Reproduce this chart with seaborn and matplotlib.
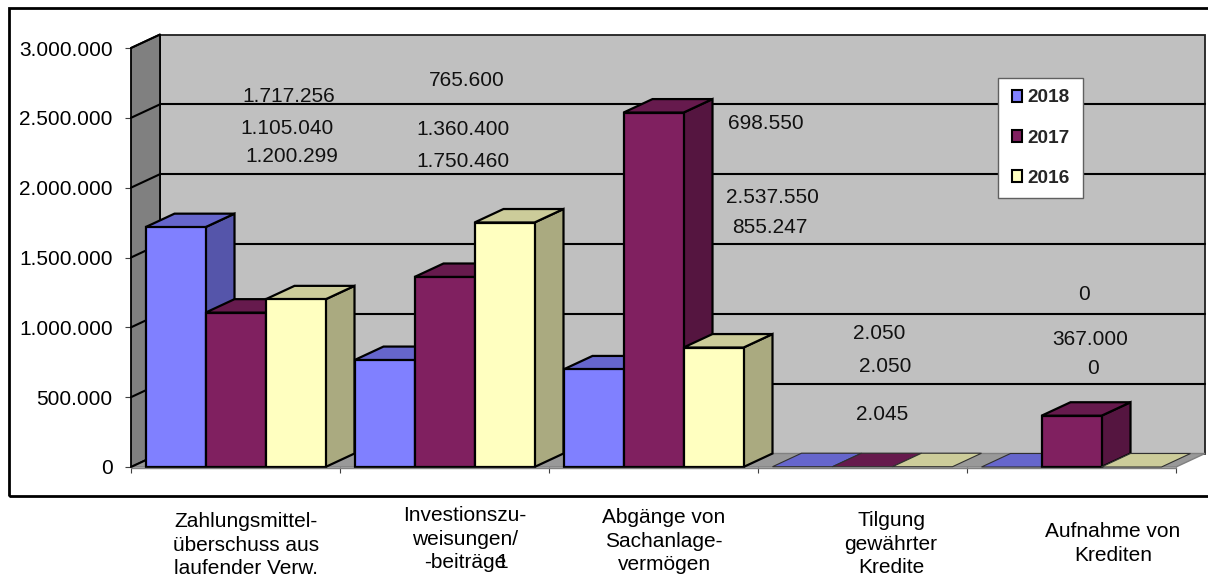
import matplotlib
matplotlib.use("Agg")
import matplotlib.pyplot as plt
from matplotlib.patches import Polygon, Rectangle
from matplotlib.transforms import ScaledTranslation
from matplotlib.colors import to_rgb
import pandas as pd
import seaborn as sns

categories = ["Zahlungsmittel-\nüberschuss aus\nlaufender Verw.",
              "Investionszu-\nweisungen/\n-beiträge",
              "Abgänge von\nSachanlage-\nvermögen",
              "Tilgung\ngewährter\nKredite",
              "Aufnahme von\nKrediten"]
years = ["2018", "2017", "2016"]
v2018 = [1717256, 765600, 698550, 2050, 0]
v2017 = [1105040, 1360400, 2537550, 2050, 367000]
v2016 = [1200299, 1750460, 855247, 2045, 0]
colors = ["#8080FF", "#802060", "#FFFFC0"]
yticks = [0, 500000, 1000000, 1500000, 2000000, 2500000, 3000000]

W, H = 1208, 578
sns.set_theme(style="white")
plt.rcParams["font.family"] = ["Liberation Sans", "DejaVu Sans"]
fig = plt.figure(figsize=(W / 100, H / 100), dpi=100)
L, R, B, T = 131, 1176, 467, 48
ax = fig.add_axes([L / W, 1 - B / H, (R - L) / W, (B - T) / H])
ax.patch.set_visible(False)

rows = []
for y, vals in zip(years, [v2018, v2017, v2016]):
    for c, v in zip(categories, vals):
        rows.append({"cat": c, "year": y, "value": v})
df = pd.DataFrame(rows)

sns.barplot(data=df, x="cat", y="value", hue="year", hue_order=years,
            palette=colors, width=180 / 209, gap=0, edgecolor="black",
            linewidth=1.6, saturation=1, ax=ax, legend=True)
ax.set_xlim(-0.5, 4.5)
ax.set_ylim(0, 3000000)
ax.set_xlabel("")
ax.set_ylabel("")
for s in ax.spines.values():
    s.set_visible(False)

# the bars as seaborn drew them, left to right (its legend proxies have no width)
bars = sorted([p for p in ax.patches if isinstance(p, Rectangle) and p.get_width() > 0],
              key=lambda p: p.get_x())

# projection depth, converted from screen to data units
DX = 29 / ((R - L) / 5)
DY = 13.5 / ((B - T) / 3000000)
x0, x1 = -0.5, 4.5
ymax = 3000000
FLAT = 10000  # bars lower than this are less than a pixel and show only their top

ax.add_patch(Polygon([(x0 + DX, DY), (x1 + DX, DY), (x1 + DX, ymax + DY), (x0 + DX, ymax + DY)],
                     fc="#C0C0C0", ec="#202020", lw=1.3, clip_on=False, zorder=0.5))
ax.add_patch(Polygon([(x0, 0), (x0 + DX, DY), (x0 + DX, ymax + DY), (x0, ymax)],
                     fc="#808080", ec="black", lw=1.3, clip_on=False, zorder=0.6))
ax.add_patch(Polygon([(x0, 0), (x1, 0), (x1 + DX, DY), (x0 + DX, DY)],
                     fc="#999999", ec="#808080", lw=1.0, clip_on=False, zorder=0.7))
for v in yticks[1:-1]:
    ax.plot([x0 + DX, x1 + DX], [v + DY, v + DY], color="black", lw=1.5, clip_on=False, zorder=0.8)
for v in yticks:
    ax.plot([x0, x0 + DX], [v, v + DY], color="black", lw=1.5, clip_on=False, zorder=0.8)

# depth faces of every bar, painted from left to right
z = 2.0
for b in bars:
    bx, bw, bh = b.get_x(), b.get_width(), b.get_height()
    rgb = to_rgb(b.get_facecolor()[:3])
    flat = bh < FLAT
    if not flat:
        ax.add_patch(Polygon([(bx + bw, 0), (bx + bw + DX, DY), (bx + bw + DX, bh + DY), (bx + bw, bh)],
                             fc=[c * 0.667 for c in rgb], ec="black", lw=1.6, clip_on=False,
                             zorder=z, joinstyle="miter"))
    ax.add_patch(Polygon([(bx, bh), (bx + bw, bh), (bx + bw + DX, bh + DY), (bx + DX, bh + DY)],
                         fc=[c * 0.8 for c in rgb], ec="#303030" if flat else "black",
                         lw=0.8 if flat else 1.6, clip_on=False,
                         zorder=z + 0.01, joinstyle="miter"))
    b.set_zorder(z + 0.02)
    b.set_clip_on(False)
    if flat:
        b.set_visible(False)
    z += 0.1
ax.plot([x0, x1], [0, 0], color="#808080", lw=1.0, clip_on=False, zorder=z,
        transform=ax.transData + ScaledTranslation(0, -1.2 / 100, fig.dpi_scale_trans))

# ticks
ax.set_yticks(yticks)
ax.set_yticklabels([f"{v:,}".replace(",", ".") for v in yticks], fontsize=15, color="black")
ax.tick_params(axis="y", left=True, length=4.3, width=0.8, color="#404040", pad=9)
ax.set_xticks(range(5))
ax.set_xticks([-0.5, 0.5, 1.5, 2.5, 3.5, 4.5], minor=True)
ax.tick_params(axis="x", which="minor", bottom=True, length=4, width=0.8, color="#404040")
ax.tick_params(axis="x", which="major", bottom=False, length=0, pad=0)
label_shift = [(10.5, 45), (20.5, 39), (10.5, 41), (28.5, 44), (41.5, 55)]
ax.set_xticklabels(categories, fontsize=15, color="black", linespacing=1.31, ha="center", va="top")
for lab, (dx, dy) in zip(ax.get_xticklabels(), label_shift):
    lab.set_transform(lab.get_transform() + ScaledTranslation(dx / 100, -dy / 100, fig.dpi_scale_trans))

# data labels, placed where the source chart had dragged them
label_px = [[(289, 96.5), (467, 80.5), (766, 123.5), (879, 333.5), (1084, 294.5)],
            [(287, 128.5), (463, 129.5), (772, 197.5), (885, 366.5), (1090, 339.5)],
            [(292, 156.5), (463, 161.5), (770, 227.5), (882, 414.5), (1093, 368.5)]]
for vals, pos in zip([v2018, v2017, v2016], label_px):
    for v, (px, py) in zip(vals, pos):
        fig.text(px / W, 1 - py / H, f"{v:,}".replace(",", "."), fontsize=15,
                 color="#111111", ha="center", va="center", zorder=50)

fig.text(502 / W, 1 - 562 / H, "1", fontsize=15, color="black", ha="center", va="center")

# outer frame, running off the right edge
fig.add_artist(Rectangle((9 / W, 1 - 496 / H), (W + 20) / W, 488 / H, transform=fig.transFigure,
                         fc="none", ec="black", lw=2))

# legend: white box behind a frameless seaborn legend
ax.add_patch(Rectangle((998 / W, 1 - 198 / H), 85 / W, 120 / H, transform=fig.transFigure,
                       fc="white", ec="#606060", lw=1, clip_on=False, zorder=39))
sns.move_legend(ax, loc="upper left", bbox_to_anchor=(1012 / W, 1 - 89.5 / H),
                bbox_transform=fig.transFigure, title=None, frameon=False,
                prop={"weight": "bold", "size": 13.7, "family": "Liberation Sans"},
                handlelength=0.55, handleheight=0.55, handletextpad=0.28,
                labelspacing=1.22, borderpad=0, borderaxespad=0)
leg = ax.get_legend()
leg.set_zorder(40)
for h, c in zip(leg.get_patches(), colors):
    h.set_facecolor(c)
    h.set_edgecolor("black")
    h.set_linewidth(1.5)

fig.savefig("out.png", dpi=100)
